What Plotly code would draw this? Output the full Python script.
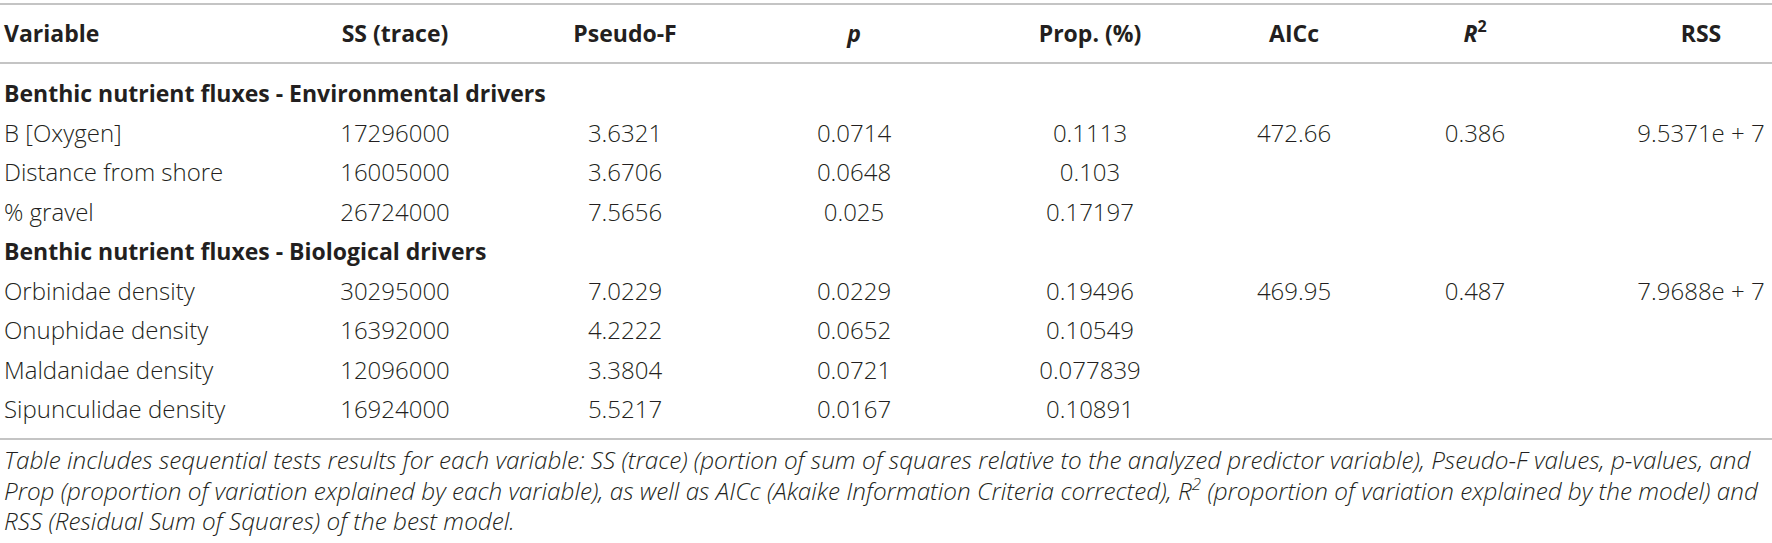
import plotly.graph_objects as go

# table content
headers = ["<b>Variable</b>", "<b>SS (trace)</b>", "<b>Pseudo-F</b>", "<b><i>p</i></b>",
           "<b>Prop. (%)</b>", "<b>AICc</b>", "<b><i>R</i><sup>2</sup></b>", "<b>RSS</b>"]

sections = ["Benthic nutrient fluxes - Environmental drivers",
            "Benthic nutrient fluxes - Biological drivers"]

variables = ["B [Oxygen]", "Distance from shore", "% gravel",
             "Orbinidae density", "Onuphidae density", "Maldanidae density", "Sipunculidae density"]
variable_section = [0, 0, 0, 1, 1, 1, 1]
ss_trace = [17296000, 16005000, 26724000, 30295000, 16392000, 12096000, 16924000]
pseudo_f = [3.6321, 3.6706, 7.5656, 7.0229, 4.2222, 3.3804, 5.5217]
p_values = [0.0714, 0.0648, 0.025, 0.0229, 0.0652, 0.0721, 0.0167]
prop = [0.1113, 0.103, 0.17197, 0.19496, 0.10549, 0.077839, 0.10891]

# best model per section
aicc = [472.66, 469.95]
r_squared = [0.386, 0.487]
rss = [9.5371e7, 7.9688e7]

caption = [
    "Table includes sequential tests results for each variable: SS (trace) (portion of sum of squares relative to the analyzed predictor variable), Pseudo-F values, p-values, and",
    "Prop (proportion of variation explained by each variable), as well as AICc (Akaike Information Criteria corrected), <i>R</i><sup>2</sup> (proportion of variation explained by the model) and",
    "RSS (Residual Sum of Squares) of the best model.",
]

# layout: x in pixels, y in row units (row 0 = first section title)
W, H = 1772, 543
COL_X = [4, 395, 625, 854, 1090, 1294, 1475, 1701]
ROW0_PX, ROW_PX = 96, 39.5


def px_to_row(px):
    return (px - ROW0_PX) / ROW_PX


HEADER_Y = px_to_row(36)
RULES_Y = [px_to_row(p) for p in (4, 63, 439)]
CAPTION_Y = [px_to_row(p) for p in (463, 494, 524)]
FONT = "Open Sans"
SIZE, BOLD_SIZE, CAPTION_SIZE = 24, 23, 24.3
TEXT_COLOR = "#231f20"
RULE_COLOR = "#c4c4c4"


def fmt_rss(v):
    return f"{v / 1e7:.4f}e + 7"


# build table rows
rows = []
prev = None
for i, var in enumerate(variables):
    s = variable_section[i]
    if s != prev:
        rows.append(["<b>" + sections[s] + "</b>"] + [""] * 7)
        first = True
        prev = s
    row = [var, str(ss_trace[i]), str(pseudo_f[i]), str(p_values[i]), str(prop[i])]
    if first:
        row += [str(aicc[s]), str(r_squared[s]), fmt_rss(rss[s])]
        first = False
    else:
        row += ["", "", ""]
    rows.append(row)

fig = go.Figure()

for c in range(len(headers)):
    pos = "middle right" if c == 0 else "middle center"
    ys = [HEADER_Y] + [k for k, r in enumerate(rows) if r[c]]
    txt = [headers[c]] + [r[c] for r in rows if r[c]]
    sizes = [BOLD_SIZE if t.startswith("<b>") else SIZE for t in txt]
    fig.add_trace(go.Scatter(
        x=[COL_X[c]] * len(ys), y=ys, text=txt,
        mode="text", textposition=pos,
        textfont=dict(family=FONT, size=sizes, color=TEXT_COLOR, weight=300),
        hoverinfo="skip", showlegend=False))

fig.add_trace(go.Scatter(
    x=[COL_X[0]] * len(caption), y=CAPTION_Y, text=caption,
    mode="text", textposition="middle right",
    textfont=dict(family=FONT, size=CAPTION_SIZE, color=TEXT_COLOR, weight=300, style="italic"),
    hoverinfo="skip", showlegend=False))

for yv in RULES_Y:
    fig.add_shape(type="line", xref="paper", yref="y", x0=0, x1=1, y0=yv, y1=yv,
                  line=dict(color=RULE_COLOR, width=2))

fig.update_xaxes(range=[0, W], visible=False, fixedrange=True)
fig.update_yaxes(range=[px_to_row(H), px_to_row(0)], visible=False, fixedrange=True)
fig.update_layout(width=W, height=H, margin=dict(l=0, r=0, t=0, b=0),
                  plot_bgcolor="white", paper_bgcolor="white")

# page body has an 8px default margin; drop it so the figure sits at the window corner
fig.write_html("out.html", config={"displayModeBar": False},
               post_script="document.body.style.margin = '0';")
